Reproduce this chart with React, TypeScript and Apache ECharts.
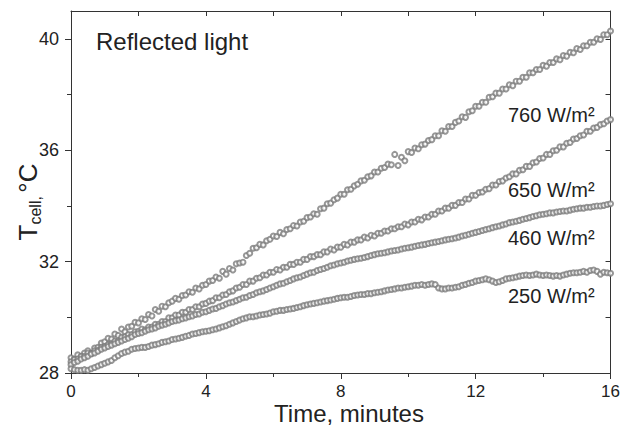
import React, { useEffect, useRef } from "react";
import * as echarts from "echarts";

// Sampling step of the readings (minutes)
const TIME_STEP = 0.1;

// Cell temperature readings (°C), one value every 0.1 min from 0 to 16 min
const s760 = [
  28.55, 28.5, 28.65, 28.58, 28.72, 28.8, 28.7, 28.9, 28.92, 29.08, 29.12,
  29.25, 29.22, 29.4, 29.35, 29.58, 29.48, 29.65, 29.68, 29.82, 29.8,
  29.95, 29.92, 30.1, 30.05, 30.28, 30.22, 30.4, 30.38, 30.52, 30.58,
  30.68, 30.65, 30.78, 30.8, 30.92, 30.9, 31.05, 31.02, 31.15, 31.18,
  31.3, 31.32, 31.45, 31.4, 31.65, 31.55, 31.75, 31.7, 31.92, 31.95,
  31.98, 32.22, 32.3, 32.48, 32.5, 32.62, 32.6, 32.75, 32.8, 32.92,
  32.9, 33.05, 33.0, 33.15, 33.18, 33.3, 33.28, 33.42, 33.45, 33.58,
  33.6, 33.72, 33.7, 33.9, 33.92, 34.08, 34.1, 34.22, 34.28, 34.42,
  34.42, 34.58, 34.6, 34.72, 34.78, 34.9, 34.92, 35.05, 35.08, 35.22,
  35.22, 35.35, 35.38, 35.5, 35.48, 35.85, 35.45, 35.75, 35.62, 35.95,
  35.92, 36.08, 36.05, 36.2, 36.22, 36.35, 36.38, 36.52, 36.52, 36.7,
  36.68, 36.85, 36.85, 37.0, 37.05, 37.2, 37.18, 37.38, 37.42, 37.58,
  37.58, 37.72, 37.72, 37.9, 37.92, 38.05, 38.05, 38.2, 38.2, 38.35,
  38.32, 38.48, 38.48, 38.62, 38.62, 38.78, 38.78, 38.9, 38.9, 39.05,
  39.02, 39.15, 39.15, 39.28, 39.25, 39.4, 39.38, 39.52, 39.5, 39.65,
  39.62, 39.75, 39.75, 39.88, 39.88, 40.0, 39.98, 40.15, 40.15, 40.28,
];

const s650 = [
  28.4, 28.48, 28.5, 28.6, 28.6, 28.72, 28.7, 28.8, 28.82, 28.92, 28.95,
  29.02, 29.05, 29.15, 29.15, 29.28, 29.3, 29.38, 29.38, 29.48, 29.5,
  29.58, 29.55, 29.65, 29.65, 29.75, 29.75, 29.85, 29.85, 29.98, 29.98,
  30.08, 30.08, 30.18, 30.18, 30.28, 30.28, 30.38, 30.38, 30.48, 30.5,
  30.58, 30.6, 30.7, 30.7, 30.8, 30.82, 30.92, 30.95, 31.05, 31.08,
  31.18, 31.18, 31.3, 31.3, 31.4, 31.42, 31.52, 31.52, 31.62, 31.62,
  31.72, 31.7, 31.8, 31.8, 31.9, 31.9, 31.98, 31.98, 32.08, 32.08,
  32.18, 32.18, 32.25, 32.25, 32.35, 32.35, 32.45, 32.42, 32.52, 32.52,
  32.62, 32.6, 32.7, 32.7, 32.78, 32.78, 32.88, 32.85, 32.95, 32.92,
  33.02, 33.02, 33.1, 33.1, 33.18, 33.18, 33.25, 33.25, 33.35, 33.32,
  33.42, 33.42, 33.52, 33.5, 33.6, 33.6, 33.7, 33.7, 33.82, 33.82,
  33.92, 33.92, 34.02, 34.02, 34.12, 34.12, 34.25, 34.25, 34.38, 34.38,
  34.48, 34.5, 34.6, 34.62, 34.75, 34.75, 34.88, 34.9, 35.0, 35.05,
  35.15, 35.15, 35.28, 35.3, 35.42, 35.42, 35.55, 35.58, 35.7, 35.72,
  35.85, 35.85, 35.98, 36.0, 36.12, 36.12, 36.25, 36.28, 36.4, 36.42,
  36.52, 36.55, 36.68, 36.68, 36.8, 36.82, 36.92, 36.95, 37.05, 37.1,
];

const s460 = [
  28.3, 28.38, 28.42, 28.5, 28.55, 28.6, 28.68, 28.72, 28.78, 28.85, 28.9,
  28.95, 29.0, 29.05, 29.1, 29.15, 29.2, 29.25, 29.3, 29.38, 29.42,
  29.45, 29.5, 29.55, 29.58, 29.62, 29.68, 29.72, 29.75, 29.8, 29.85,
  29.88, 29.9, 29.95, 29.98, 30.02, 30.05, 30.1, 30.12, 30.18, 30.2,
  30.25, 30.3, 30.32, 30.38, 30.42, 30.48, 30.52, 30.55, 30.6, 30.65,
  30.7, 30.72, 30.78, 30.82, 30.88, 30.92, 30.95, 31.0, 31.05, 31.1,
  31.15, 31.2, 31.22, 31.28, 31.32, 31.38, 31.42, 31.45, 31.5, 31.55,
  31.6, 31.62, 31.68, 31.72, 31.75, 31.8, 31.85, 31.88, 31.92, 31.95,
  31.98, 32.02, 32.05, 32.08, 32.1, 32.12, 32.15, 32.18, 32.22, 32.25,
  32.28, 32.3, 32.32, 32.35, 32.38, 32.4, 32.42, 32.45, 32.48, 32.5,
  32.52, 32.55, 32.58, 32.6, 32.62, 32.65, 32.68, 32.7, 32.72, 32.75,
  32.78, 32.8, 32.82, 32.85, 32.88, 32.92, 32.95, 32.98, 33.02, 33.05,
  33.08, 33.12, 33.15, 33.18, 33.22, 33.25, 33.28, 33.32, 33.35, 33.4,
  33.42, 33.45, 33.48, 33.52, 33.55, 33.58, 33.62, 33.65, 33.68, 33.7,
  33.72, 33.75, 33.75, 33.78, 33.8, 33.82, 33.82, 33.85, 33.88, 33.9,
  33.92, 33.92, 33.95, 33.95, 33.98, 34.0, 34.0, 34.02, 34.05, 34.08,
];

const s250 = [
  28.15, 28.12, 28.1, 28.1, 28.12, 28.1, 28.15, 28.2, 28.25, 28.3, 28.35,
  28.4, 28.45, 28.55, 28.62, 28.7, 28.75, 28.78, 28.85, 28.88, 28.9,
  28.92, 28.92, 28.95, 29.0, 29.02, 29.05, 29.1, 29.12, 29.15, 29.2,
  29.22, 29.25, 29.28, 29.32, 29.35, 29.4, 29.42, 29.45, 29.48, 29.5,
  29.52, 29.55, 29.58, 29.62, 29.66, 29.7, 29.75, 29.8, 29.85, 29.9,
  29.95, 29.98, 30.02, 30.02, 30.05, 30.08, 30.1, 30.12, 30.15, 30.2,
  30.22, 30.25, 30.25, 30.28, 30.3, 30.32, 30.35, 30.38, 30.42, 30.45,
  30.48, 30.5, 30.52, 30.55, 30.58, 30.6, 30.62, 30.65, 30.68, 30.7,
  30.72, 30.72, 30.75, 30.78, 30.8, 30.82, 30.82, 30.85, 30.85, 30.88,
  30.9, 30.92, 30.95, 30.98, 31.0, 31.02, 31.05, 31.05, 31.08, 31.1,
  31.12, 31.15, 31.15, 31.18, 31.15, 31.18, 31.2, 31.18, 31.05, 31.02,
  31.02, 31.05, 31.05, 31.08, 31.1, 31.15, 31.18, 31.22, 31.25, 31.3,
  31.32, 31.35, 31.38, 31.35, 31.3, 31.25, 31.28, 31.32, 31.38, 31.4,
  31.42, 31.45, 31.48, 31.5, 31.52, 31.5, 31.52, 31.55, 31.52, 31.5,
  31.52, 31.5, 31.48, 31.5, 31.48, 31.52, 31.55, 31.58, 31.6, 31.6,
  31.62, 31.65, 31.62, 31.68, 31.7, 31.65, 31.55, 31.62, 31.6, 31.58,
];

const seriesValues = [s760, s650, s460, s250];
const seriesNames = ["760 W/m²", "650 W/m²", "460 W/m²", "250 W/m²"];

const xLabelTicks = [0, 4, 8, 12, 16];
const yMajorTicks = [28, 32, 36, 40];
const yMinorTicks = [30, 34, 38];
const yRightTicks = [30, 32, 34, 36, 38, 40];

const FONT = "'Liberation Sans', Arial, Helvetica, sans-serif";
const AXIS = "#333";
const TEXT = "#222";
const POINT = "#7d7d7d";

export default function App() {
  const ref = useRef<HTMLDivElement>(null);

  useEffect(() => {
    document.body.style.margin = "0";
    if (!ref.current) return;
    const chart = echarts.init(ref.current, undefined, { renderer: "svg" });

    const lineStyle = { color: AXIS, width: 1 };

    const series = seriesValues.map((vals, si) => ({
      type: "scatter",
      name: seriesNames[si],
      xAxisIndex: 0,
      yAxisIndex: 0,
      symbol: "emptyCircle",
      symbolSize: 5,
      itemStyle: { color: POINT, borderWidth: 1 },
      data: vals.map((v, i) => [Number((i * TIME_STEP).toFixed(1)), v]),
      silent: true,
    }));

    const labelY = [115, 190, 238, 296];

    chart.setOption({
      animation: false,
      backgroundColor: "#fff",
      grid: { left: 71, right: 11, top: 11, bottom: 54, containLabel: false },
      xAxis: [
        {
          type: "value",
          position: "bottom",
          min: 0,
          max: 16,
          interval: 4,
          axisLine: { show: true, lineStyle },
          axisTick: { show: true, inside: false, length: 6, lineStyle },
          minorTick: { show: true, splitNumber: 2, length: 4, lineStyle },
          splitLine: { show: false },
          minorSplitLine: { show: false },
          axisLabel: {
            fontSize: 17,
            lineHeight: 17,
            color: TEXT,
            fontFamily: FONT,
            margin: 10,
            customValues: xLabelTicks,
          },
        },
        {
          type: "value",
          position: "top",
          min: 0,
          max: 16,
          interval: 2,
          axisLine: { show: true, lineStyle },
          axisTick: { show: true, inside: true, length: 5, lineStyle },
          splitLine: { show: false },
          axisLabel: { show: false },
        },
      ],
      yAxis: [
        {
          type: "value",
          position: "left",
          min: 28,
          max: 41,
          axisLine: { show: true, lineStyle },
          axisTick: { show: true, inside: false, length: 6, lineStyle, customValues: yMajorTicks },
          splitLine: { show: false },
          axisLabel: {
            fontSize: 18,
            color: TEXT,
            fontFamily: FONT,
            margin: 12,
            customValues: yMajorTicks,
          },
        },
        {
          type: "value",
          position: "left",
          min: 28,
          max: 41,
          axisLine: { show: false },
          axisTick: { show: true, inside: false, length: 4, lineStyle, customValues: yMinorTicks },
          splitLine: { show: false },
          axisLabel: { show: false },
        },
        {
          type: "value",
          position: "right",
          min: 28,
          max: 41,
          axisLine: { show: true, lineStyle },
          axisTick: { show: true, inside: true, length: 5, lineStyle, customValues: yRightTicks },
          splitLine: { show: false },
          axisLabel: { show: false },
        },
      ],
      series,
      graphic: [
        {
          type: "text",
          x: 96,
          y: 41,
          style: {
            text: "Reflected light",
            font: `24px ${FONT}`,
            fill: TEXT,
            align: "left",
            verticalAlign: "middle",
          },
        },
        ...seriesNames.map((name, i) => ({
          type: "text",
          x: 508,
          y: labelY[i],
          style: {
            text: name,
            font: `20px ${FONT}`,
            fill: TEXT,
            align: "left",
            verticalAlign: "middle",
          },
        })),
        {
          type: "text",
          x: 349,
          y: 413,
          style: {
            text: "Time, minutes",
            font: `24px ${FONT}`,
            lineHeight: 24,
            fill: TEXT,
            align: "center",
            verticalAlign: "middle",
          },
        },
        {
          type: "text",
          x: 28,
          y: 202,
          rotation: Math.PI / 2,
          style: {
            text: "{t|T}{s|cell,} {t|°C}",
            align: "center",
            verticalAlign: "middle",
            fill: TEXT,
            rich: {
              t: { fontSize: 26, fontFamily: FONT, lineHeight: 30, fill: TEXT, verticalAlign: "middle" },
              s: { fontSize: 16, fontFamily: FONT, lineHeight: 12, fill: TEXT, verticalAlign: "bottom" },
            },
          },
        },
      ],
    });

    return () => chart.dispose();
  }, []);

  return <div ref={ref} style={{ width: 623, height: 427 }} />;
}
